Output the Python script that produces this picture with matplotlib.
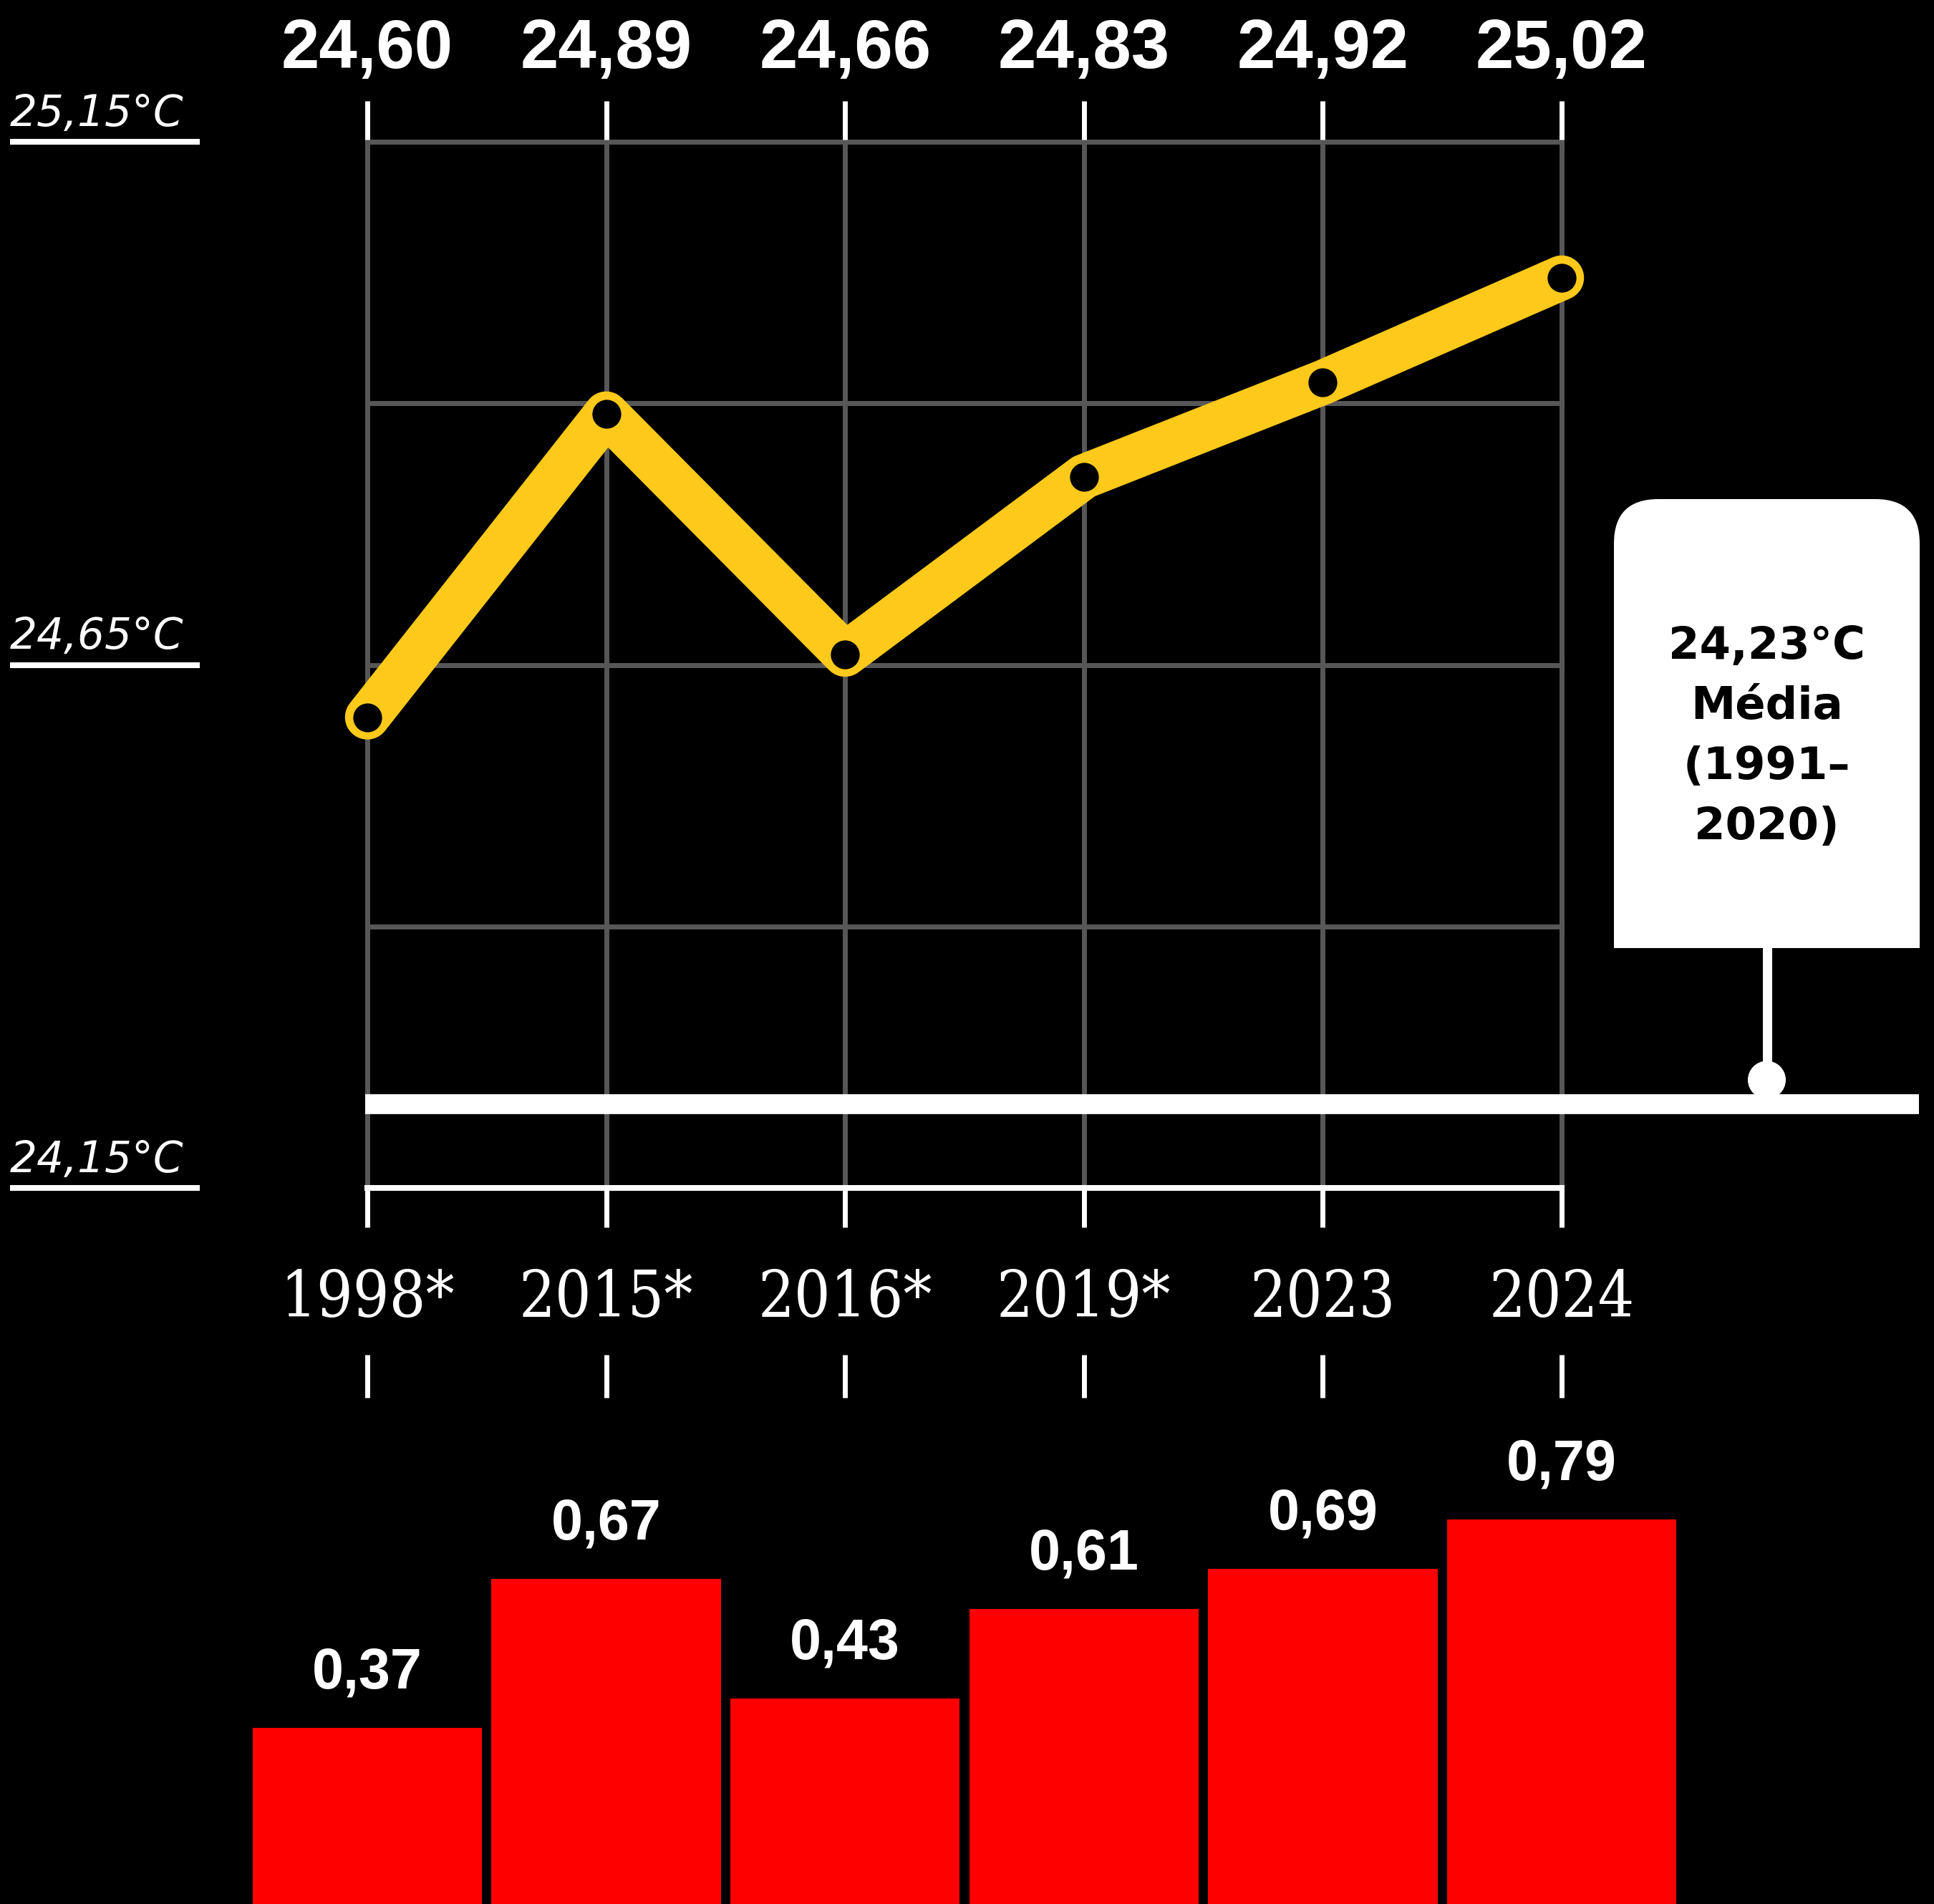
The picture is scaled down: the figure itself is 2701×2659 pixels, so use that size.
import matplotlib
matplotlib.use('Agg')
import matplotlib.pyplot as plt
import numpy as np
from matplotlib.transforms import Affine2D, blended_transform_factory
from matplotlib.patches import FancyBboxPatch, Rectangle, Circle

# ---------------- data ----------------
years = ['1998*', '2015*', '2016*', '2019*', '2023', '2024']
temps = [24.60, 24.89, 24.66, 24.83, 24.92, 25.02]
anomalies = [0.37, 0.67, 0.43, 0.61, 0.69, 0.79]
avg_temp = 24.23
avg_label = ['Média', '(1991–', '2020)']
axis_labels = [25.15, 24.65, 24.15]
grid_vals = [25.15, 24.90, 24.65, 24.40]


def fmt(v):
    return f'{v:.2f}'.replace('.', ',')


# ---------------- layout ----------------
W, H, DPI = 2701, 2659, 100
YEL = '#FDC91A'
GRAY = '#575757'
RED = '#FF0000'
BOLD = ['Liberation Sans', 'DejaVu Sans']

fig = plt.figure(figsize=(W / DPI, H / DPI), dpi=DPI, facecolor='black')
ax = fig.add_axes([0, 0, 1, 1])
ax.set_facecolor('none')
ax.axis('off')

PXX = 333.6   # px per category
X0 = 513      # px of first category
PXY = 1461    # px per degree
YTOP = 198    # px of 25.15
ax.set_xlim(-X0 / PXX, (W - X0) / PXX)
ax.set_ylim(25.15 - (H - YTOP) / PXY, 25.15 + YTOP / PXY)

bax = fig.add_axes([0, 0, 1, 1])
bax.set_facecolor('none')
bax.axis('off')
PXB = 694
bax.set_xlim(ax.get_xlim())
bax.set_ylim((2670 - H) / PXB, (2670 - H) / PXB + H / PXB)

# pixel transform (origin top-left)
T = Affine2D().scale(1 / W, -1 / H).translate(0, 1) + fig.transFigure
XD_YP = blended_transform_factory(ax.transData, T)
XP_YD = blended_transform_factory(T, ax.transData)

x = np.arange(len(years))
ymin, ymax = min(axis_labels), max(axis_labels)

# grid
for v in grid_vals:
    ax.plot([x[0], x[-1]], [v, v], color=GRAY, lw=5, solid_capstyle='projecting', zorder=1)
for xi in x:
    ax.plot([xi, xi], [ymin, ymax], color=GRAY, lw=5, solid_capstyle='projecting', zorder=1)
ax.plot([x[0], x[-1]], [ymin, ymin], color='white', lw=5.8, solid_capstyle='projecting', zorder=2)

# ticks
for xi in x:
    ax.plot([xi, xi], [141, 195], transform=XD_YP, color='white', lw=5, solid_capstyle='butt')
    ax.plot([xi, xi], [1660, 1714], transform=XD_YP, color='white', lw=5, solid_capstyle='butt')
    ax.plot([xi, xi], [1892, 1952], transform=XD_YP, color='white', lw=5, solid_capstyle='butt')

# top value labels
for xi, t in zip(x, temps):
    ax.text(xi, 95, fmt(t), transform=XD_YP, ha='center', va='baseline',
            fontsize=69, fontweight='bold', family=BOLD, color='white')

# year labels
for xi, yl in zip(x, years):
    ax.text(xi, 1839, yl, transform=XD_YP, ha='center', va='baseline',
            fontsize=64, family='DejaVu Serif', fontstretch='condensed', color='white')

# left axis labels
for v in axis_labels:
    ax.plot([14, 279], [v, v], transform=XP_YD, color='white', lw=5.8, solid_capstyle='butt')
    ax.annotate(fmt(v) + '°C', xy=(14, v), xycoords=XP_YD, xytext=(0, 16),
                textcoords='offset points', ha='left', va='baseline',
                fontsize=43, fontstyle='italic', family='DejaVu Sans', color='white')

# average line
ax.plot([-0.008, 6.496], [avg_temp, avg_temp], color='white', lw=20,
        solid_capstyle='butt', zorder=4)

# main line
ax.plot(x, temps, color=YEL, lw=45, solid_capstyle='round', solid_joinstyle='round', zorder=5)
ax.plot(x, temps, 'o', ms=29, color='black', mec='none', zorder=6)

# callout box
bl, br, bt, bb = 2254, 2681, 697, 1324
cx = (bl + br) / 2
ax.add_patch(FancyBboxPatch((bl, bt), br - bl, bb - bt,
                            boxstyle='round,pad=0,rounding_size=62',
                            transform=T, fc='white', ec='none', zorder=7))
ax.add_patch(Rectangle((bl, (bt + bb) / 2), br - bl, (bb - bt) / 2,
                       transform=T, fc='white', ec='none', zorder=7))
avg_px = H - ax.transData.transform((0, avg_temp))[1]
dot_y = avg_px - 34
ax.plot([cx, cx], [bb - 2, dot_y], transform=T, color='white', lw=9.4,
        solid_capstyle='butt', zorder=7)
ax.add_patch(Circle((cx, dot_y), 26.5, transform=T, fc='white', ec='none', zorder=7))
call_lines = [fmt(avg_temp) + '°C'] + avg_label
for i, s in enumerate(call_lines):
    ax.text(cx, 920 + i * 84, s, transform=T, ha='center', va='baseline',
            fontsize=45, fontweight='bold', family='DejaVu Sans', color='black', zorder=8)

# bars
bax.bar(x, anomalies, width=0.96, color=RED, zorder=2)
for xi, a in zip(x, anomalies):
    bax.annotate(fmt(a), xy=(xi, a), xytext=(0, 40), textcoords='offset points',
                 ha='center', va='baseline', fontsize=57, fontweight='bold',
                 family=BOLD, color='white')

fig.savefig('out.png', dpi=DPI, facecolor='black')
